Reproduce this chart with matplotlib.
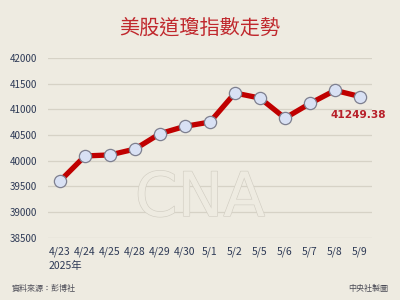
import matplotlib
matplotlib.use("Agg")
import matplotlib.pyplot as plt
import matplotlib.patheffects as pe

plt.rcParams["font.family"] = ["Noto Sans CJK TC", "DejaVu Sans"]

dates = ["4/23", "4/24", "4/25", "4/28", "4/29", "4/30", "5/1",
         "5/2", "5/5", "5/6", "5/7", "5/8", "5/9"]
close = [39606.57, 40093.40, 40113.50, 40227.59, 40527.62, 40669.36, 40752.96,
         41317.43, 41218.83, 40829.00, 41113.97, 41368.45, 41249.38]
yticks = [38500, 39000, 39500, 40000, 40500, 41000, 41500, 42000]

BG = "#EEEBE1"
RED = "#C00000"
NAVY = "#2E3A56"

fig = plt.figure(figsize=(4, 3), dpi=100, facecolor=BG)
ax = fig.add_axes([0.12, 0.207, 0.81, 0.6], facecolor=BG)

x = range(len(dates))
ax.plot(x, close, color=RED, lw=3.8, zorder=3, solid_joinstyle="round")
ax.plot(x, close, ls="none", marker="o", ms=8.8, mfc="#D9E1F4", mec="#7D7F8F",
        mew=0.9, zorder=4, clip_on=False)

ax.set_xlim(-0.48, len(dates) - 0.52)
ax.set_ylim(38500, 42000)
ax.set_yticks(yticks)
ax.set_yticklabels([str(v) for v in yticks], fontsize=7, color=NAVY)
ax.set_xticks(list(x))
ax.set_xticklabels(dates, fontsize=7.5, color=NAVY)
ax.tick_params(length=0, pad=6)
ax.tick_params(axis="y", pad=8)
ax.grid(axis="y", color="#D6D2C6", lw=0.9)
ax.set_axisbelow(True)
for s in ax.spines.values():
    s.set_visible(False)

# last value label
fig.text(0.895, 0.617, f"{close[-1]:.2f}", ha="center", va="center",
         fontsize=7.6, color="#B8202A", fontweight="bold", family="DejaVu Sans")

# faint CNA watermark
fig.text(0.5, 0.335, "CNA", ha="center", va="center", fontsize=44, color=BG,
         family="DejaVu Sans",
         path_effects=[pe.withStroke(linewidth=0.9, foreground="#D2CEC3")], zorder=1)

fig.text(0.5, 0.905, "美股道瓊指數走勢", ha="center", va="center",
         fontsize=14.5, color="#C0282D")
fig.text(0.122, 0.112, "2025年", ha="left", va="center", fontsize=7.5, color=NAVY)
fig.text(0.03, 0.04, "資料來源：彭博社", ha="left", va="center", fontsize=5.8, color="#4A4A55")
fig.text(0.97, 0.04, "中央社製圖", ha="right", va="center", fontsize=5.8, color="#4A4A55")

fig.savefig("out.png", dpi=100, facecolor=BG)
